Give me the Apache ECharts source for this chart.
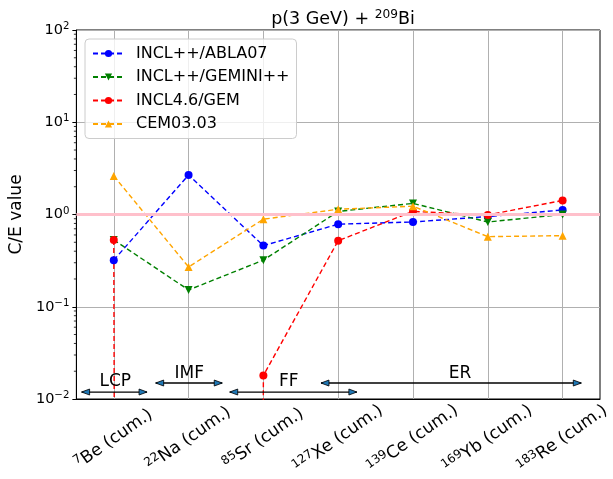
<!DOCTYPE html>
<html lang="en">
<head>
    <meta charset="UTF-8">
    <title>C/E p(3 GeV) + 209Bi</title>
    <script src="https://cdn.jsdelivr.net/npm/echarts@6/dist/echarts.min.js"></script>
    <style>
        html, body { margin: 0; padding: 0; background: #fff; }
    </style>
</head>
<body>
<div id="main" style="width: 613px;height: 479px"></div>

<script>
    // isotopes on the x axis
    var massNumbers = ['7', '22', '85', '127', '139', '169', '183'];
    var elements = ['Be', 'Na', 'Sr', 'Xe', 'Ce', 'Yb', 'Re'];

    // C/E values per model
    var ablaVals = [0.32, 2.68, 0.46, 0.785, 0.83, 0.95, 1.12];
    var geminiVals = [0.53, 0.152, 0.32, 1.08, 1.32, 0.83, 1.0];
    var gemVals = [0.53, 0, 0.018, 0.52, 1.08, 0.99, 1.42];   // 0 -> drops off the log axis
    var cemVals = [2.62, 0.27, 0.89, 1.14, 1.23, 0.575, 0.59];

    var yTicks = [0.01, 0.1, 1, 10, 100];

    // product regions: label, arrow from/to (x in category units), arrow y, label x, label y
    var regionNames = ['LCP', 'IMF', 'FF', 'ER'];
    var regionFrom = [-0.43, 0.56, 1.55, 2.77];
    var regionTo = [0.445, 1.45, 3.25, 6.25];
    var regionY = [0.0119, 0.0149, 0.0119, 0.0149];
    var regionLabelX = [0.02, 1.01, 2.34, 4.63];
    var regionLabelY = [0.0156, 0.0188, 0.0156, 0.0188];

    var FONT = 'DejaVu Sans';
    var chart = echarts.init(document.getElementById('main'));

    var categories = massNumbers.map(function (m, i) { return m + elements[i]; });

    // minor ticks of the log axis (2..9 in each decade)
    var minorTicks = [];
    for (var d = 0; d < yTicks.length - 1; d++) {
        for (var k = 2; k <= 9; k++) minorTicks.push(yTicks[d] * k);
    }

    function supExp(v) {
        var e = Math.round(Math.log10(v));
        return '{b|10}{s|' + (e < 0 ? '\u2212' + (-e) : e) + '}';
    }

    function modelSeries(name, vals, color, symbol, rot) {
        return {
            name: name,
            type: 'line',
            data: vals.map(function (v) { return v > 0 ? v : 1e-300; }),
            symbol: symbol,
            symbolSize: 8,
            symbolRotate: rot,
            color: color,
            lineStyle: {color: color, width: 1.4, type: [5, 3]},
            itemStyle: {color: color},
            clip: true,
            z: 3
        };
    }

    var series = [
        {
            type: 'line',
            data: [],
            silent: true,
            markLine: {
                silent: true,
                symbol: 'none',
                label: {show: false},
                lineStyle: {color: '#ffc0cb', width: 3, type: 'solid'},
                data: [{yAxis: 1}]
            },
            z: 1
        },
        modelSeries('INCL++/ABLA07', ablaVals, '#0000ff', 'circle', 0),
        modelSeries('INCL++/GEMINI++', geminiVals, '#008000', 'triangle', 180),
        modelSeries('INCL4.6/GEM', gemVals, '#ff0000', 'circle', 0),
        modelSeries('CEM03.03', cemVals, '#ffa500', 'triangle', 0),
        {
            // minor ticks on the log axis
            type: 'custom',
            silent: true,
            data: minorTicks,
            renderItem: function (params, api) {
                var y = api.coord([0, api.value(0)])[1];
                var x0 = params.coordSys.x;
                return {
                    type: 'line',
                    shape: {x1: x0 - 2.5, y1: y, x2: x0, y2: y},
                    style: {stroke: '#000', lineWidth: 0.8}
                };
            },
            encode: {y: 0},
            z: 6
        },
        {
            // rotated isotope labels under the axis
            type: 'custom',
            silent: true,
            data: categories,
            renderItem: function (params, api) {
                var i = params.dataIndex;
                var p = api.coord([i, yTicks[0]]);
                return {
                    type: 'text',
                    x: p[0],
                    y: p[1] + 40,
                    rotation: 35 * Math.PI / 180,
                    style: {
                        text: '{s|' + massNumbers[i] + '}{b|' + elements[i] + ' (cum.)}',
                        align: 'center',
                        verticalAlign: 'middle',
                        rich: {
                            b: {fontFamily: FONT, fontSize: 17, fill: '#000'},
                            s: {fontFamily: FONT, fontSize: 12, fill: '#000', padding: [0, 0, 8, 0]}
                        }
                    }
                };
            },
            clip: false,
            z: 6
        },
        {
            type: 'custom',
            xAxisIndex: 1,
            silent: true,
            data: regionNames.map(function (n, i) { return [regionLabelX[i], regionLabelY[i]]; }),
            renderItem: function (params, api) {
                var p = api.coord([api.value(0), api.value(1)]);
                return {
                    type: 'text',
                    x: p[0], y: p[1],
                    style: {
                        text: regionNames[params.dataIndex],
                        fill: '#000',
                        font: '17px "DejaVu Sans"',
                        align: 'center',
                        verticalAlign: 'middle'
                    }
                };
            },
            encode: {x: 0, y: 1},
            z: 5
        }
    ];

    // double arrows
    for (var i = 0; i < regionNames.length; i++) {
        series.push({
            type: 'line',
            xAxisIndex: 1,
            silent: true,
            clip: false,
            lineStyle: {color: '#000', width: 1.3, type: 'solid'},
            itemStyle: {color: '#1f77b4', borderColor: '#000', borderWidth: 0.8},
            symbolSize: [6, 8],
            data: [
                {value: [regionFrom[i], regionY[i]], symbol: 'triangle', symbolRotate: 90, symbolOffset: [4, 0]},
                {value: [regionTo[i], regionY[i]], symbol: 'triangle', symbolRotate: -90, symbolOffset: [-4, 0]}
            ],
            z: 4
        });
    }

    var option = {
        animation: false,
        backgroundColor: '#fff',
        title: {
            text: 'p(3 GeV) + {s|209}Bi',
            left: 338,
            top: 4,
            textAlign: 'center',
            textStyle: {
                fontFamily: FONT, fontSize: 17.5, fontWeight: 'normal', color: '#000',
                rich: {s: {fontFamily: FONT, fontSize: 12.2, padding: [0, 0, 8, 0], color: '#000'}}
            }
        },
        legend: {
            orient: 'vertical',
            left: 85,
            top: 39,
            padding: [6, 7, 6, 7],
            itemWidth: 31,
            itemHeight: 9,
            itemGap: 6.5,
            borderColor: '#cccccc',
            borderWidth: 1,
            borderRadius: 4,
            backgroundColor: 'rgba(255,255,255,0.8)',
            data: ['INCL++/ABLA07', 'INCL++/GEMINI++', 'INCL4.6/GEM', 'CEM03.03'],
            textStyle: {fontFamily: FONT, fontSize: 16, color: '#000', lineHeight: 17, padding: [0, 0, 0, 7]}
        },
        grid: {
            left: 76, right: 13, top: 30, bottom: 80,
            show: true, borderColor: '#000', borderWidth: 1, backgroundColor: 'transparent'
        },
        xAxis: [
            {
                type: 'category',
                data: categories,
                boundaryGap: true,
                axisLine: {onZero: false, lineStyle: {color: '#000', width: 1}},
                axisTick: {alignWithLabel: true, length: 4, lineStyle: {color: '#000'}},
                splitLine: {show: true, alignWithLabel: true, lineStyle: {color: '#b0b0b0', width: 1}},
                axisLabel: {show: false}
            },
            {
                type: 'value',
                min: -0.5,
                max: 6.5,
                show: false
            }
        ],
        yAxis: {
            type: 'log',
            logBase: 10,
            min: yTicks[0],
            max: yTicks[yTicks.length - 1],
            name: 'C/E value',
            nameLocation: 'middle',
            nameGap: 49,
            nameTextStyle: {fontFamily: FONT, fontSize: 17, color: '#000'},
            axisLine: {show: true, onZero: false, lineStyle: {color: '#000', width: 1}},
            axisTick: {show: true, length: 4, lineStyle: {color: '#000'}},
            splitLine: {show: true, lineStyle: {color: '#b0b0b0', width: 1}},
            axisLabel: {
                margin: 7,
                formatter: supExp,
                rich: {
                    b: {fontFamily: FONT, fontSize: 14.5, color: '#000'},
                    s: {fontFamily: FONT, fontSize: 10.2, color: '#000', padding: [0, 0, 7, 0]}
                }
            }
        },
        series: series
    };

    chart.setOption(option);
</script>
</body>
</html>
